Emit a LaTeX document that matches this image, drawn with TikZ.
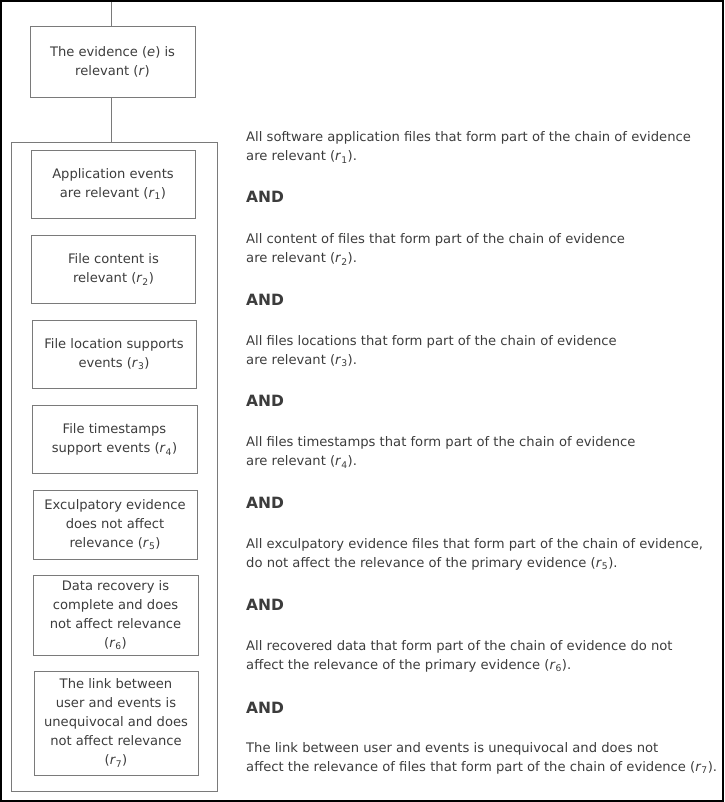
\documentclass[tikz,border=0pt]{standalone}
\usepackage{fontspec}
\setmainfont{DejaVu Sans}
\definecolor{txt}{HTML}{3C3C3C}
\definecolor{bord}{HTML}{7A7A7A}
\newcommand{\rr}[1]{(\textit{r}\textsubscript{#1})}
\begin{document}
\begin{tikzpicture}[x=1pt,y=-1pt,
  every node/.style={text=txt},
  box/.style={draw=bord, line width=0.8pt, align=center, inner sep=0pt,
    font=\fontsize{13.1}{19}\selectfont},
  grpbox/.style={draw=bord, line width=0.8pt, inner sep=0pt},
  conn/.style={draw=bord, line width=0.8pt},
  para/.style={anchor=base west, inner sep=0pt, font=\fontsize{13.15}{19}\selectfont},
  andlbl/.style={anchor=base west, inner sep=0pt, font=\fontsize{15.5}{19}\selectfont\bfseries}]
\useasboundingbox (0,0) rectangle (724,802);
\draw[black, line width=2pt] (1,1) rectangle (723,801);
% left column
\node[box, minimum width=165pt, minimum height=71pt] (top) at (112.5,61.5) {The evidence (\textit{e}) is\\relevant (\textit{r})};
\node[grpbox, minimum width=206pt, minimum height=649pt] (grp) at (114,466.5) {};
\node[box, minimum width=164pt, minimum height=68pt] (b1) at (113,184) {Application events\\are relevant \rr{1}};
\node[box, minimum width=164pt, minimum height=68pt] (b2) at (113.5,269.5) {File content is\\relevant \rr{2}};
\node[box, minimum width=164pt, minimum height=68pt] (b3) at (114,354) {File location supports\\events \rr{3}};
\node[box, minimum width=165pt, minimum height=68pt] (b4) at (114.5,439.5) {File timestamps\\support events \rr{4}};
\node[box, minimum width=164pt, minimum height=69pt] (b5) at (115,524.5) {Exculpatory evidence\\does not affect\\relevance \rr{5}};
\node[box, minimum width=165pt, minimum height=80pt] (b6) at (115.5,615) {Data recovery is\\complete and does\\not affect relevance\\\rr{6}};
\node[box, minimum width=164pt, minimum height=104pt] (b7) at (116,723) {The link between\\user and events is\\unequivocal and does\\not affect relevance\\\rr{7}};
\coordinate (t0) at (111,2);
\coordinate (t1) at (111,26);
\coordinate (t2) at (111,97);
\coordinate (t3) at (111,142);
\draw[conn] (t0) -- (t1);
\draw[conn] (t2) -- (t3);
% right column
\node[para] (p1a) at (246,142) {All software application files that form part of the chain of evidence};
\node[para] (p1b) at (246,161) {are relevant \rr{1}.};
\node[andlbl] (a1) at (246,203) {AND};
\node[para] (p2a) at (246,243.5) {All content of files that form part of the chain of evidence};
\node[para] (p2b) at (246,262.5) {are relevant \rr{2}.};
\node[andlbl] (a2) at (246,305) {AND};
\node[para] (p3a) at (246,345) {All files locations that form part of the chain of evidence};
\node[para] (p3b) at (246,364) {are relevant \rr{3}.};
\node[andlbl] (a3) at (246,406.5) {AND};
\node[para] (p4a) at (246,446.5) {All files timestamps that form part of the chain of evidence};
\node[para] (p4b) at (246,465.5) {are relevant \rr{4}.};
\node[andlbl] (a4) at (246,508.5) {AND};
\node[para] (p5a) at (246,548) {All exculpatory evidence files that form part of the chain of evidence,};
\node[para] (p5b) at (246,567) {do not affect the relevance of the primary evidence \rr{5}.};
\node[andlbl] (a5) at (246,610.5) {AND};
\node[para] (p6a) at (246,650) {All recovered data that form part of the chain of evidence do not};
\node[para] (p6b) at (246,669) {affect the relevance of the primary evidence \rr{6}.};
\node[andlbl] (a6) at (246,713) {AND};
\node[para] (p7a) at (246,752) {The link between user and events is unequivocal and does not};
\node[para] (p7b) at (246,771) {affect the relevance of files that form part of the chain of evidence \rr{7}.};
\end{tikzpicture}
\end{document}
